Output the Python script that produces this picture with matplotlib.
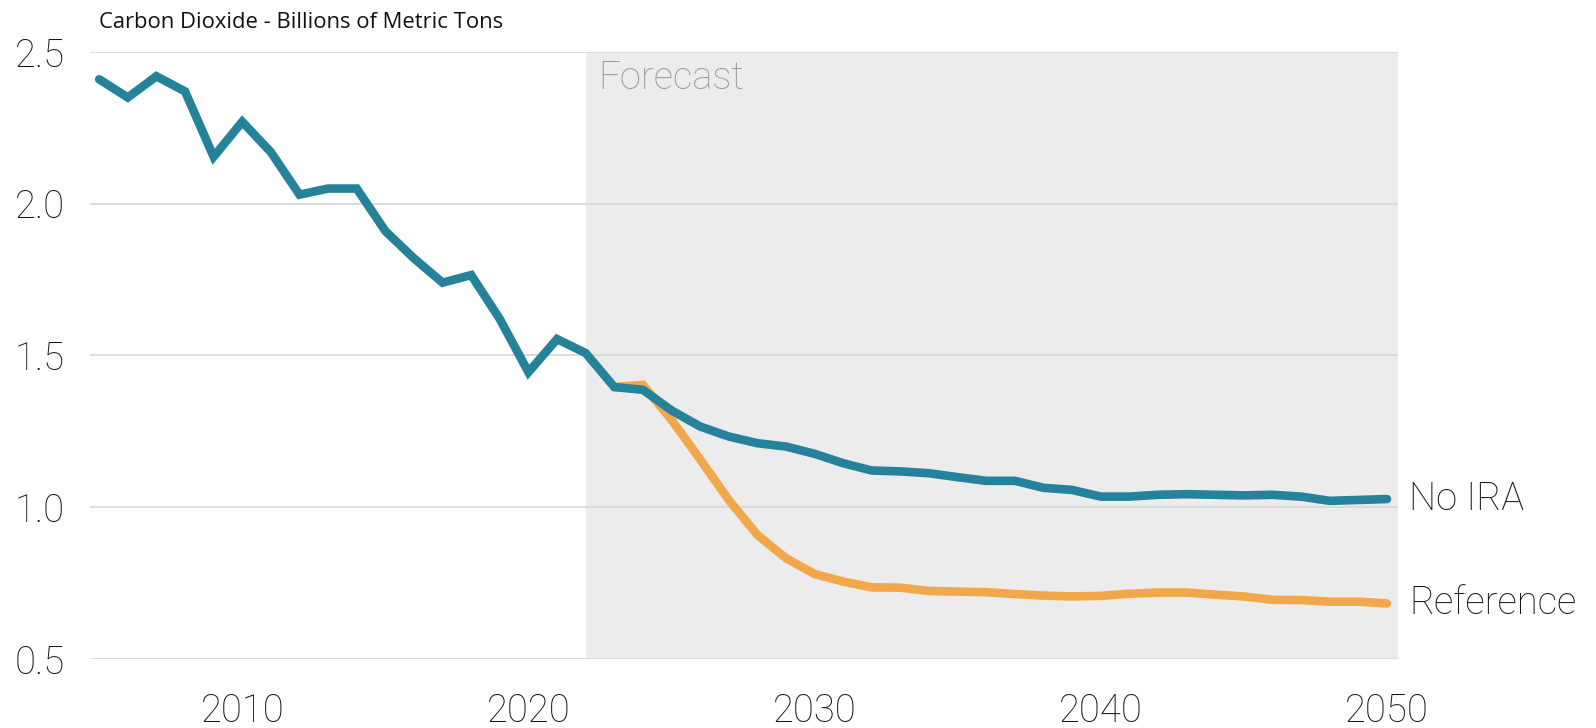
import matplotlib
matplotlib.use("Agg")
import matplotlib.pyplot as plt

# 数据
years = list(range(2005, 2051))
no_ira = [2.41, 2.35, 2.42, 2.37, 2.155, 2.27, 2.17, 2.03, 2.05, 2.05,
          1.91, 1.82, 1.74, 1.765, 1.62, 1.445, 1.554, 1.508, 1.396, 1.387,
          1.319, 1.266, 1.233, 1.211, 1.20, 1.176, 1.145, 1.121, 1.118, 1.112,
          1.099, 1.087, 1.087, 1.064, 1.057, 1.035, 1.035, 1.041, 1.043, 1.041,
          1.039, 1.041, 1.035, 1.021, 1.024, 1.027]
ref_years = list(range(2023, 2051))
reference = [1.396, 1.403, 1.288, 1.158, 1.024, 0.909, 0.832, 0.78, 0.755, 0.736,
             0.735, 0.724, 0.722, 0.72, 0.714, 0.709, 0.706, 0.708, 0.715, 0.719,
             0.719, 0.712, 0.706, 0.695, 0.694, 0.689, 0.689, 0.683]
yticks = [0.5, 1.0, 1.5, 2.0, 2.5]
xticks = [2010, 2020, 2030, 2040, 2050]
forecast_start = 2022

teal = "#24829a"
orange = "#f2a84a"
font = ["Roboto", "DejaVu Sans"]
fs = 27.5

fig = plt.figure(figsize=(15.96, 7.28), dpi=100)
ax = fig.add_axes([0.0564, 0.0948, 0.8196, 0.8338])

ax.axvspan(forecast_start, 2050.39, color="#ececec", lw=0, zorder=0)
ax.plot(ref_years, reference, color=orange, lw=6.2, solid_capstyle="round",
        solid_joinstyle="miter", zorder=3)
ax.plot(years, no_ira, color=teal, lw=6.2, solid_capstyle="round",
        solid_joinstyle="miter", zorder=4)

ax.set_xlim(2004.68, 2050.39)
ax.set_ylim(0.5, 2.5)
ax.set_yticks(yticks)
ax.set_yticklabels([f"{v:.1f}" for v in yticks])
ax.set_xticks(xticks)
ax.grid(axis="y", color="#d9d9d9", lw=1.3, zorder=1)
ax.set_axisbelow(True)
for s in ax.spines.values():
    s.set_visible(False)
ax.tick_params(length=0, labelsize=fs, colors="#161616")
ax.tick_params(axis="y", pad=18)
ax.tick_params(axis="x", pad=24)
for lab in ax.get_xticklabels() + ax.get_yticklabels():
    lab.set_family(font)
    lab.set_fontweight("light")

ax.text(2050.78, no_ira[-1], "No IRA", fontsize=fs, family=font, weight="light",
        color="#161616", va="center", ha="left", clip_on=False)
ax.text(2050.78, reference[-1], "Reference", fontsize=fs, family=font, weight="light",
        color="#161616", va="center", ha="left", clip_on=False)
ax.text(2022.45, 2.415, "Forecast", fontsize=fs, family=font, weight="light",
        color="#9a9a9a", va="center", ha="left")

fig.text(0.062, 0.969, "Carbon Dioxide - Billions of Metric Tons", fontsize=15.8,
         family=["Open Sans", "DejaVu Sans"], color="#111111", va="center", ha="left")

fig.savefig("out.png", dpi=100)
